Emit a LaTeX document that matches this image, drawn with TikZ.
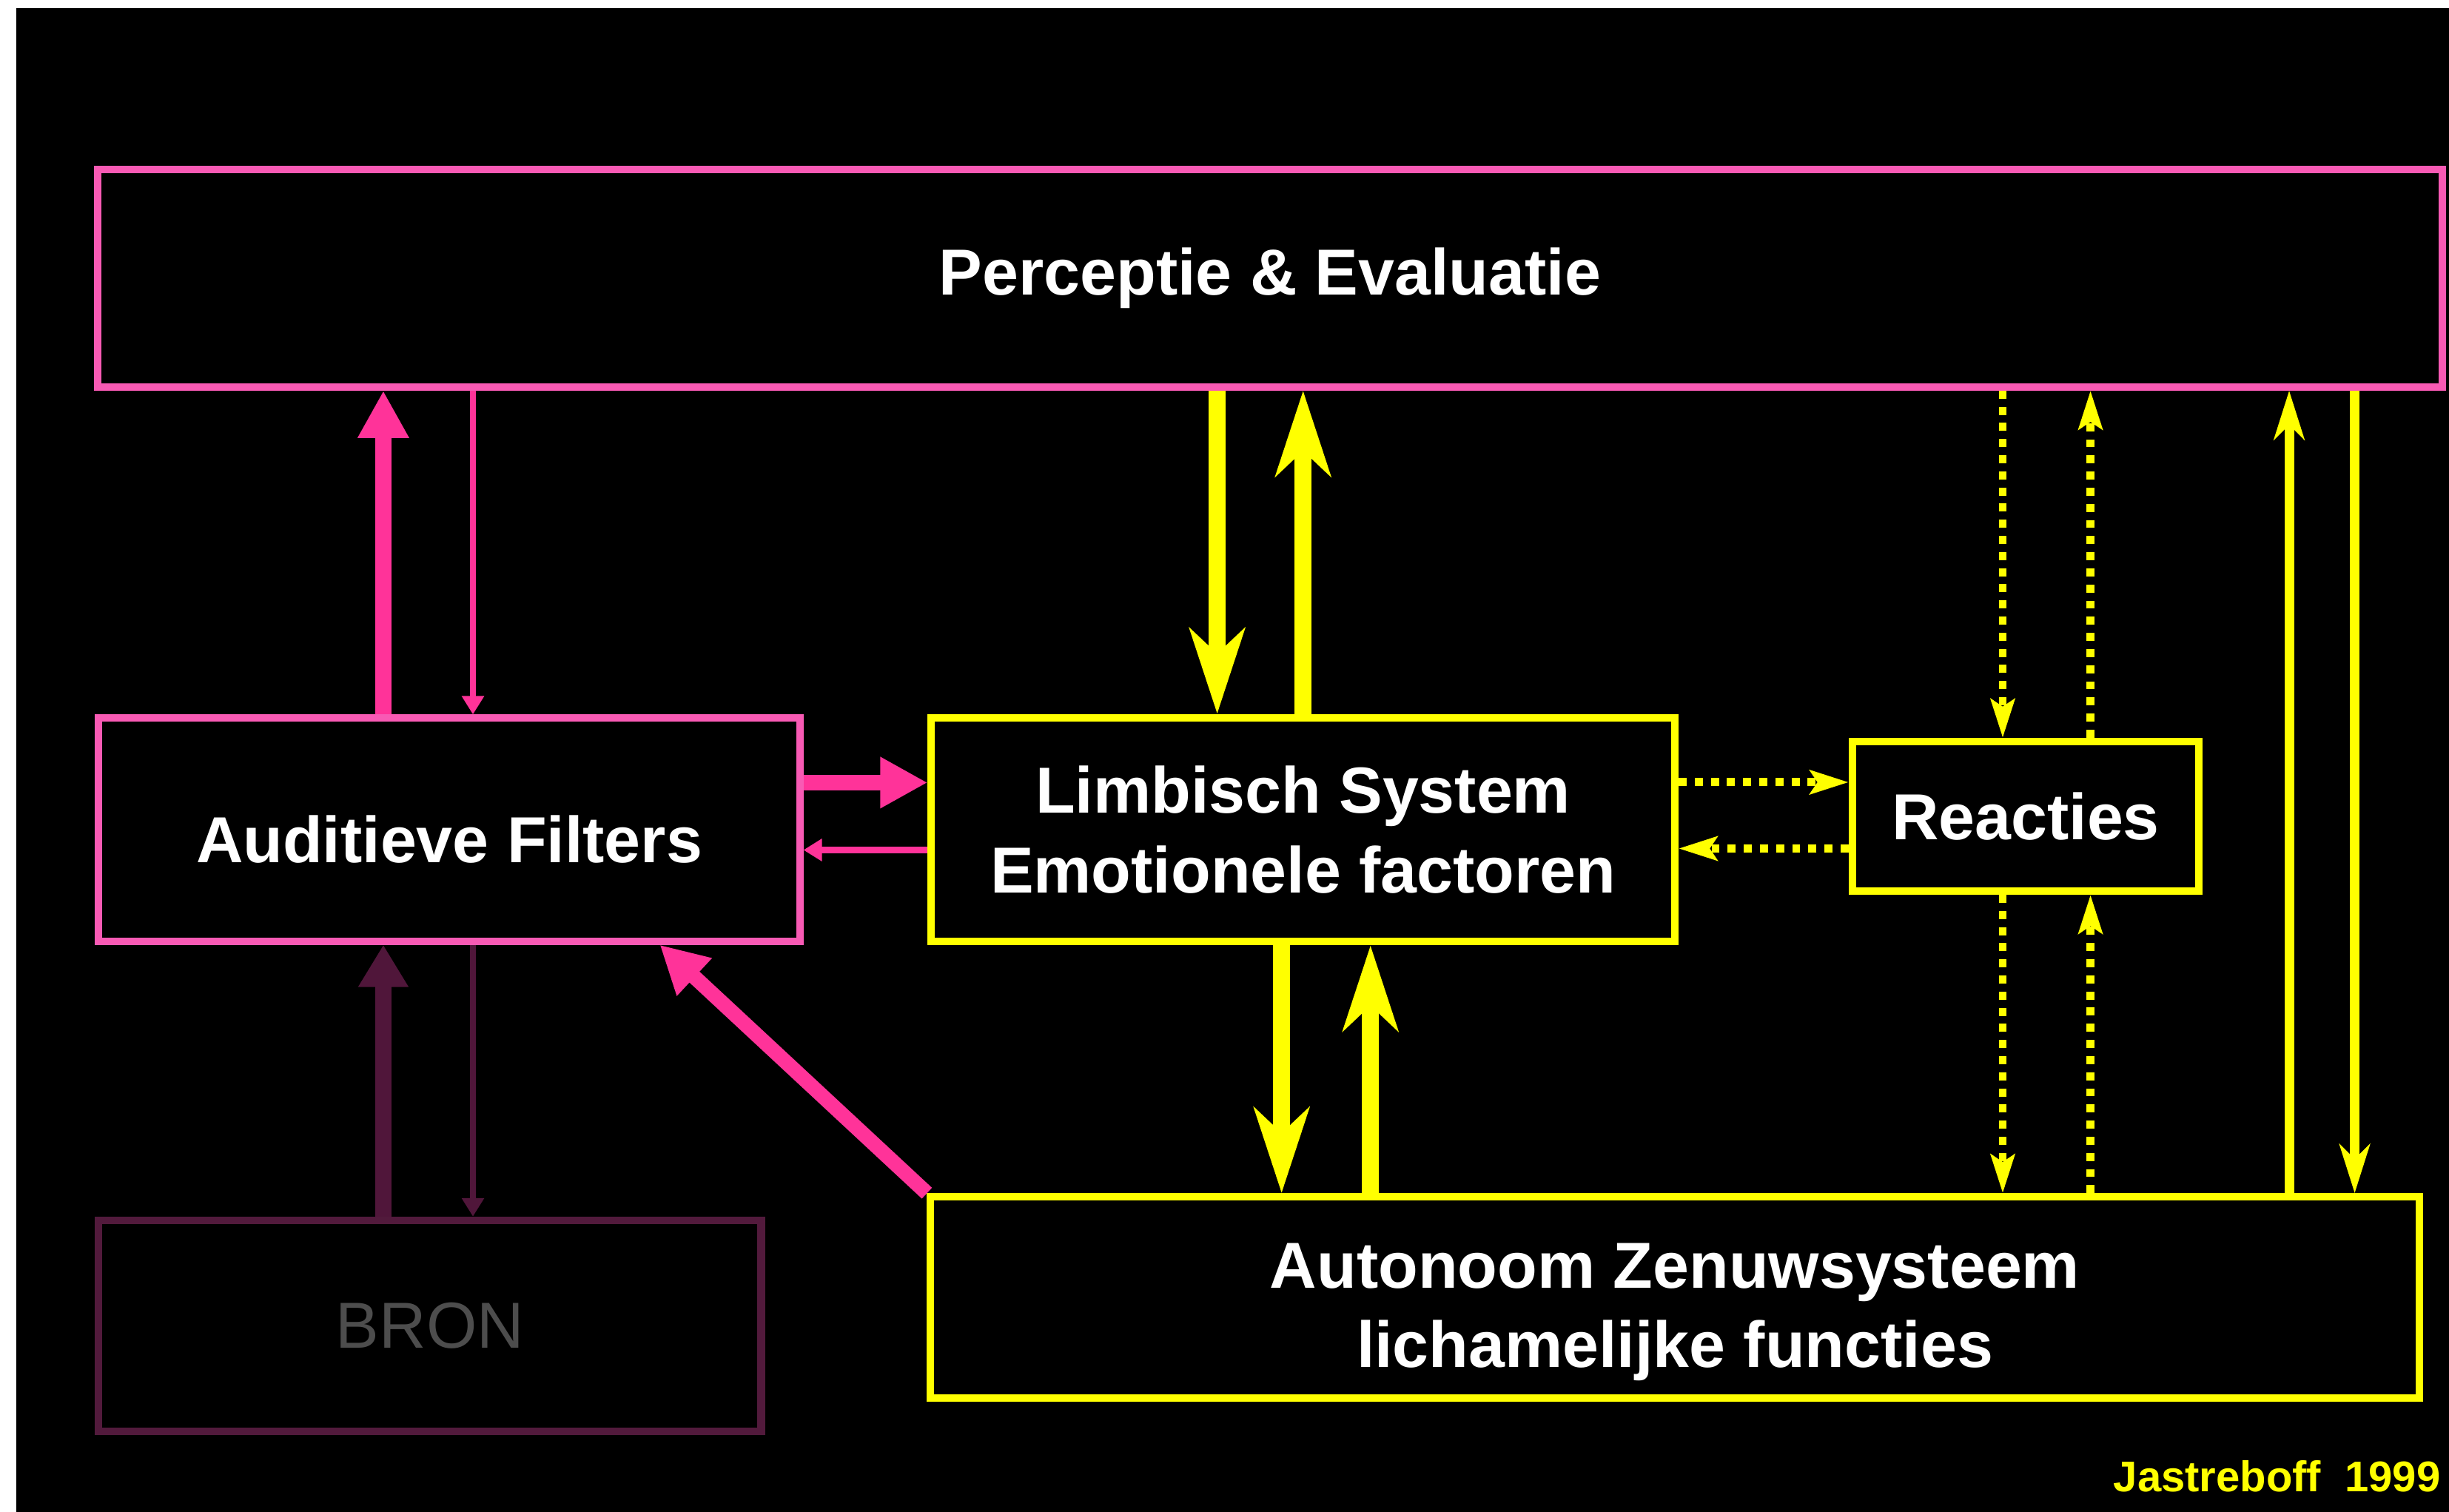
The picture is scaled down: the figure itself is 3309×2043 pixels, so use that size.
\documentclass[tikz,border=0pt]{standalone}
\usepackage{fontspec}
\setmainfont{Liberation Sans}
\usetikzlibrary{arrows.meta}
\definecolor{pinkline}{HTML}{F85AB4}
\definecolor{pinkarrow}{HTML}{FF3399}
\definecolor{yel}{HTML}{FFFF00}
\definecolor{bronline}{HTML}{521A3C}
\definecolor{bronarrow}{HTML}{50163A}
\definecolor{brontext}{HTML}{4D4D4D}
\newcommand\labfont{\fontsize{25}{30.5}\selectfont\bfseries}
\begin{document}
\begin{tikzpicture}[x=0.01cm, y=0.01cm, node distance=2cm,
  box/.style={draw, rectangle, line width=2.85pt, inner sep=0pt, text=white, font=\labfont, align=center},
  pinkbox/.style={box, draw=pinkline},
  yelbox/.style={box, draw=yel},
  thickpink/.style={-{Triangle[length=0.64cm,width=0.65cm]}, line width=6.2pt, draw=pinkarrow},
  thinpink/.style={-{Triangle[length=0.25cm,width=0.29cm]}, line width=2.3pt, draw=pinkarrow},
  thickyel/.style={-{Stealth[length=1.15cm,width=0.74cm,inset=0.34cm]}, line width=6.5pt, draw=yel},
  midyel/.style={-{Stealth[length=0.66cm,width=0.41cm,inset=0.2cm]}, line width=3.7pt, draw=yel},
  dotyel/.style={-{Stealth[length=0.52cm,width=0.32cm,inset=0.1cm]}, line width=3.1pt, draw=yel, dash pattern=on 3.1pt off 3.1pt}]
\useasboundingbox (0,0) rectangle (3309,2043);
\fill[white] (0,0) rectangle (3309,2043);
\fill[black] (22,0) rectangle (3309,2032);

\node (perc) [pinkbox, minimum width=31.655cm, minimum height=2.935cm] at (1716,1667) {Perceptie \& Evaluatie};
\node (aud) [pinkbox, text height=25.6pt, minimum width=9.465cm, minimum height=3.01cm] at (607,922) {Auditieve Filters};
\node (limb) [yelbox, right of=aud, node distance=11.53cm, minimum width=10.04cm, minimum height=3.025cm] {Limbisch System\\Emotionele factoren};
\node (reac) [yelbox, minimum width=4.68cm, minimum height=2.02cm] at (2737,940) {Reacties};
\node (auto) [yelbox, text height=65.6pt, text depth=11.6pt, minimum width=20.1cm, minimum height=2.65cm] at (2263,290) {Autonoom Zenuwsysteem\\lichamelijke functies};
\node (bron) [box, draw=bronline, text=brontext, font=\fontsize{25}{30.5}\selectfont, below of=aud, node distance=6.7cm, xshift=-0.26cm, minimum width=8.945cm, minimum height=2.85cm] {BRON};
\node (credit) [anchor=base west, inner sep=0pt, text=yel, font=\fontsize{16.5}{20}\selectfont\bfseries] at (2855,27) {Jastreboff\ \ 1999};

\draw[thickpink] ([xshift=-0.89cm]aud.north) -- ([xshift=-0.89cm]aud.north |- perc.south);
\draw[thinpink] ([xshift=0.32cm]aud.north |- perc.south) -- ([xshift=0.32cm]aud.north);
\draw[thickpink] ([yshift=0.635cm]aud.east) -- ([yshift=0.635cm]aud.east -| limb.west);
\draw[thinpink] ([yshift=-0.275cm]aud.east -| limb.west) -- ([yshift=-0.275cm]aud.east);
\draw[thickpink, line width=5.7pt] (auto.north west) -- ([xshift=-1.94cm]aud.south east);
\draw[thickpink, draw=bronarrow, -{Triangle[length=0.57cm,width=0.64cm]}] ([xshift=-0.89cm]aud.south |- bron.north) -- ([xshift=-0.89cm]aud.south);
\draw[thinpink, draw=bronarrow] ([xshift=0.32cm]aud.south) -- ([xshift=0.32cm]aud.south |- bron.north);

\draw[thickyel] ([xshift=-1.16cm]limb.north |- perc.south) -- ([xshift=-1.16cm]limb.north);
\draw[thickyel] (limb.north) -- (limb.north |- perc.south);
\draw[thickyel] ([xshift=-0.29cm]limb.south) -- ([xshift=-0.29cm]limb.south |- auto.north);
\draw[thickyel] ([xshift=0.91cm]limb.south |- auto.north) -- ([xshift=0.91cm]limb.south);

\draw[dotyel] ([yshift=0.64cm]limb.east) -- ([yshift=0.64cm]limb.east -| reac.west);
\draw[dotyel] ([yshift=-0.255cm]limb.east -| reac.west) -- ([yshift=-0.255cm]limb.east);
\draw[dotyel] ([xshift=-0.31cm]reac.north |- perc.south) -- ([xshift=-0.31cm]reac.north);
\draw[dotyel] ([xshift=0.875cm]reac.north) -- ([xshift=0.875cm]reac.north |- perc.south);
\draw[dotyel] ([xshift=-0.31cm]reac.south) -- ([xshift=-0.31cm]reac.south |- auto.north);
\draw[dotyel] ([xshift=0.875cm]reac.south |- auto.north) -- ([xshift=0.875cm]reac.south);

\draw[midyel] ([xshift=-1.805cm]auto.north east) -- ([xshift=-1.805cm]auto.north east |- perc.south);
\draw[midyel] ([xshift=-0.92cm]auto.north east |- perc.south) -- ([xshift=-0.92cm]auto.north east);
\end{tikzpicture}
\end{document}
